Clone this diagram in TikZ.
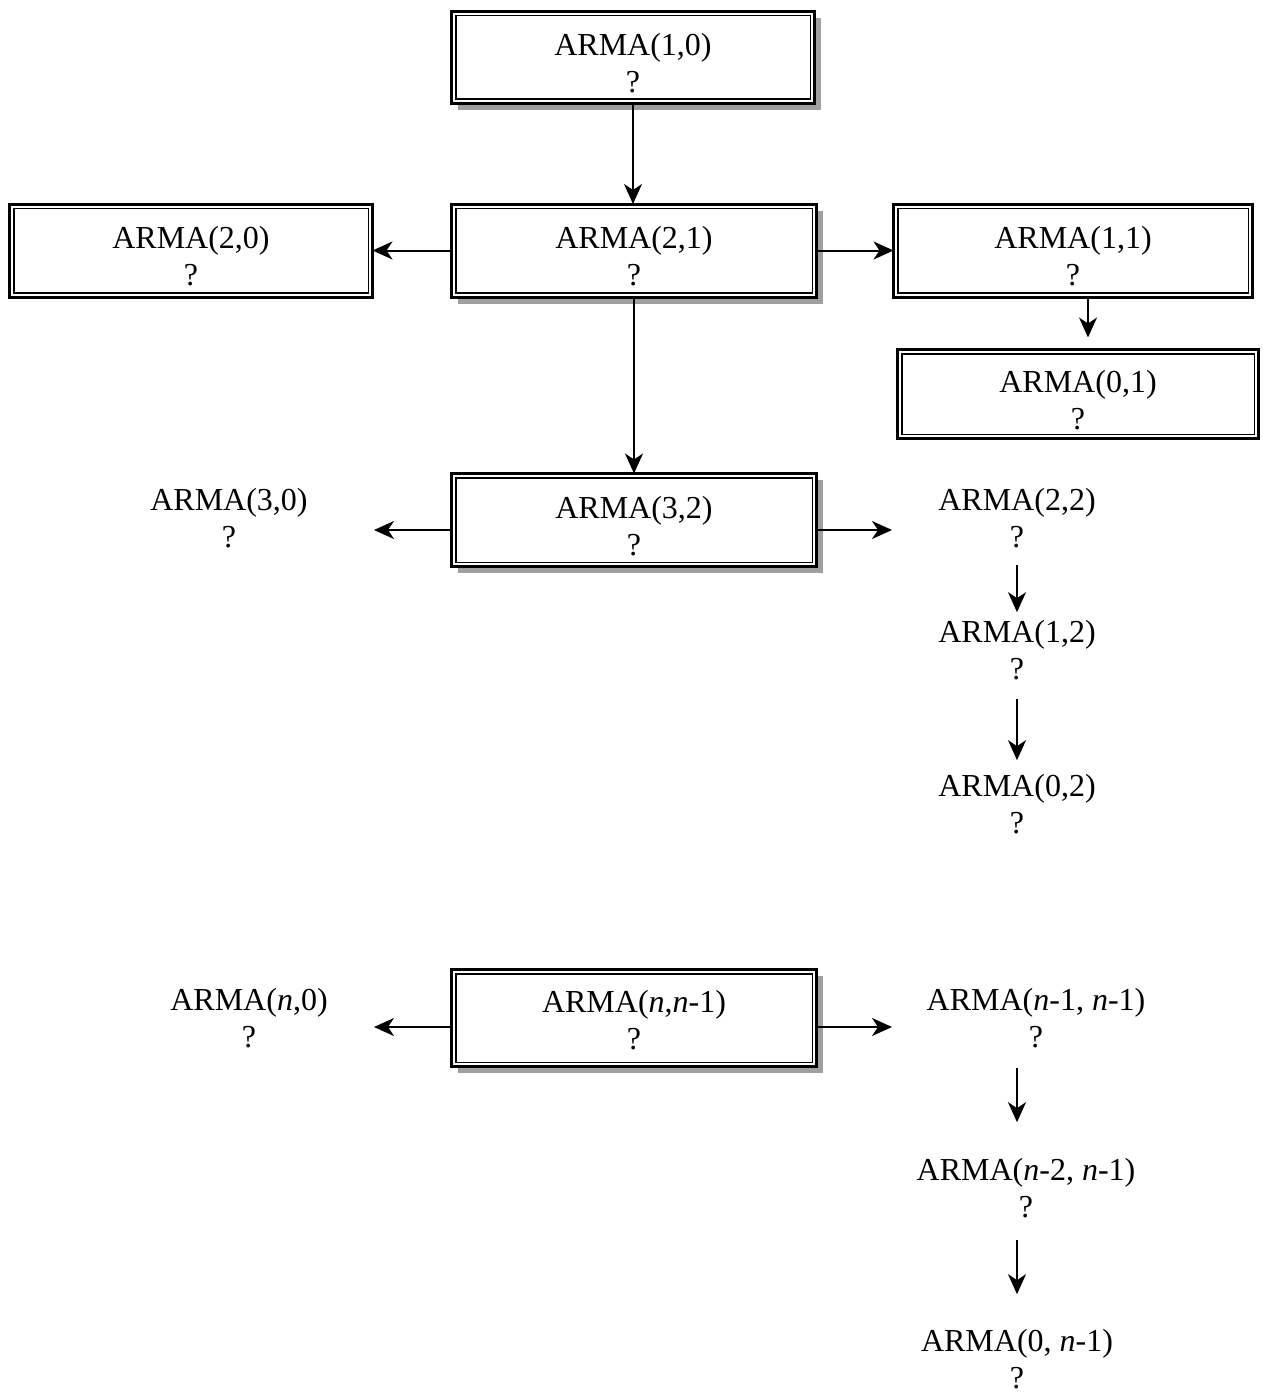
\documentclass[tikz,border=0pt]{standalone}
\usepackage{fontspec}
\setmainfont{Liberation Serif}
\usetikzlibrary{arrows.meta,shadows}
\newcommand\toprule[1]{\rule{0pt}{#1pt}}
\begin{document}
\begin{tikzpicture}[x=1pt,y=-1pt]
\tikzset{
 base/.style={font=\fontsize{32}{37}\selectfont, align=center, inner sep=0pt, outer sep=0pt},
 armabox/.style={base, draw, line width=3pt, fill=white},
 innerline/.style={line width=1.5pt},
 shad/.style={drop shadow={shadow xshift=6.5pt, shadow yshift=-6.5pt, fill=gray!75, opacity=1}},
 plain/.style={base},
 arr/.style={-{Stealth[length=20pt,width=18pt,inset=6pt]}, line width=2pt}
}
\useasboundingbox (0,0) rectangle (1262,1392);

% boxes
\node[armabox, shad, minimum width=363pt, minimum height=92pt] (a10) at (633,57) {\toprule{34}ARMA(1,0)\\?};
\node[armabox, shad, minimum width=365pt, minimum height=93pt] (a21) at (634,250.5) {\toprule{34}ARMA(2,1)\\?};
\node[armabox, minimum width=363pt, minimum height=93pt] (a20) at (191,250.5) {\toprule{34}ARMA(2,0)\\?};
\node[armabox, minimum width=359pt, minimum height=93pt] (a11) at (1073,250.5) {\toprule{34}ARMA(1,1)\\?};
\node[armabox, minimum width=361pt, minimum height=89pt] (a01) at (1078,394) {\toprule{34}ARMA(0,1)\\?};
\node[armabox, shad, minimum width=365pt, minimum height=93pt] (a32) at (634,520) {\toprule{34}ARMA(3,2)\\?};
\node[armabox, shad, minimum width=365pt, minimum height=97pt] (ann) at (634,1018) {\toprule{26}ARMA(\textit{n},\textit{n}-1)\\?};

% inner lines of the double borders
\foreach \n in {a10,a21,a20,a11,a01,a32,ann}
  \draw[innerline] ([shift={(4.25pt,-4.25pt)}]\n.north west) rectangle ([shift={(-4.25pt,4.25pt)}]\n.south east);

% plain texts
\node[plain] (t30) at (229,518) {ARMA(3,0)\\?};
\node[plain] (t22) at (1017,518) {ARMA(2,2)\\?};
\node[plain] (t12) at (1017,650) {ARMA(1,2)\\?};
\node[plain] (t02) at (1017,804) {ARMA(0,2)\\?};
\node[plain] (tn0) at (249,1018) {ARMA(\textit{n},0)\\?};
\node[plain] (tnn) at (1036,1018) {ARMA(\textit{n}-1, \textit{n}-1)\\?};
\node[plain] (tn2) at (1026,1188) {ARMA(\textit{n}-2, \textit{n}-1)\\?};
\node[plain] (t0n) at (1017,1359) {ARMA(0, \textit{n}-1)\\?};

% helper coordinates
\coordinate (k11) at (1088,0);
\coordinate (kcol) at (1017,0);
\coordinate (e30) at (374,530);
\coordinate (e22) at (892,530);
\coordinate (en0) at (374,1027);
\coordinate (enn) at (892,1027);

% connectors
\draw[arr] (a10.south) -- (a10.south |- a21.north);
\draw[arr] (a21.west) -- (a20.east);
\draw[arr] (a21.east) -- (a11.west);
\draw[arr, shorten >=12pt] (a11.south -| k11) -- (a01.north -| k11);
\draw[arr] (a21.south) -- (a21.south |- a32.north);
\draw[arr] (a32.west |- e30) -- (e30);
\draw[arr] (a32.east |- e22) -- (e22);
\draw[arr, shorten <=17pt, shorten >=8pt] (t22.south -| kcol) -- (t12.north -| kcol);
\draw[arr, shorten <=19pt, shorten >=14pt] (t12.south -| kcol) -- (t02.north -| kcol);
\draw[arr] (ann.west |- en0) -- (en0);
\draw[arr] (ann.east |- enn) -- (enn);
\draw[arr, shorten <=20pt, shorten >=36pt] (tnn.south -| kcol) -- (tn2.north -| kcol);
\draw[arr, shorten <=22pt, shorten >=35pt] (tn2.south -| kcol) -- (t0n.north -| kcol);
\end{tikzpicture}
\end{document}
